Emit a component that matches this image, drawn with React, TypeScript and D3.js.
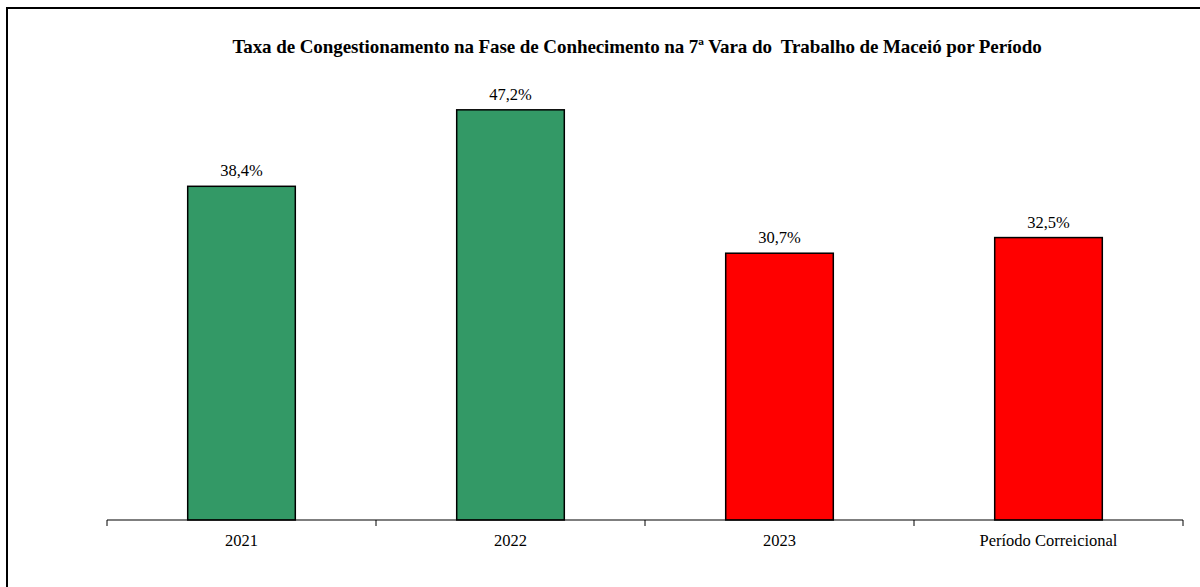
import React from "react";
import * as d3 from "d3";

const categories = ["2021", "2022", "2023", "Período Correicional"];
const values = [38.4, 47.2, 30.7, 32.5];
const colors = ["#339966", "#339966", "#FF0000", "#FF0000"];
const title = "Taxa de Congestionamento na Fase de Conhecimento na 7ª Vara do  Trabalho de Maceió por Período";

const W = 1200;
const H = 587;
const fmt = (v: number) => v.toFixed(1).replace(".", ",") + "%";

export default function App() {
  const x = d3.scaleBand<string>().domain(categories).range([107, 1183]).paddingInner(0).paddingOuter(0);
  const y = d3.scaleLinear().domain([0, 50]).range([520, 85.5]);
  const bw = x.bandwidth() * 0.4;
  const font = "'Liberation Serif', 'Times New Roman', serif";
  const ticks = [...categories.map((c) => x(c)!), x.range()[1]];
  return (
    <svg width={W} height={H} style={{ position: "absolute", left: 0, top: 0 }} fontFamily={font}>
      <rect x={0} y={0} width={W} height={H} fill="#fff" />
      <rect x={7} y={8} width={1400} height={800} fill="none" stroke="#000" strokeWidth={2} />
      <text x={637} y={53} textAnchor="middle" fontSize={19} fontWeight="bold" letterSpacing={-0.08} style={{ whiteSpace: "pre" }}>
        {title}
      </text>
      {categories.map((c, i) => {
        const cx = x(c)! + x.bandwidth() / 2;
        return (
          <g key={c}>
            <rect
              x={cx - bw / 2}
              y={y(values[i])}
              width={bw}
              height={y(0) - y(values[i])}
              fill={colors[i]}
              stroke="#000"
              strokeWidth={1.5}
            />
            <text x={cx} y={y(values[i]) - 10} textAnchor="middle" fontSize={16.5}>
              {fmt(values[i])}
            </text>
            <text x={cx} y={546} textAnchor="middle" fontSize={16.5}>
              {c}
            </text>
          </g>
        );
      })}
      <line x1={107} x2={1183} y1={520} y2={520} stroke="#000" strokeWidth={1.2} />
      {ticks.map((t, i) => (
        <line key={i} x1={t} x2={t} y1={520} y2={526} stroke="#000" strokeWidth={1} />
      ))}
    </svg>
  );
}
